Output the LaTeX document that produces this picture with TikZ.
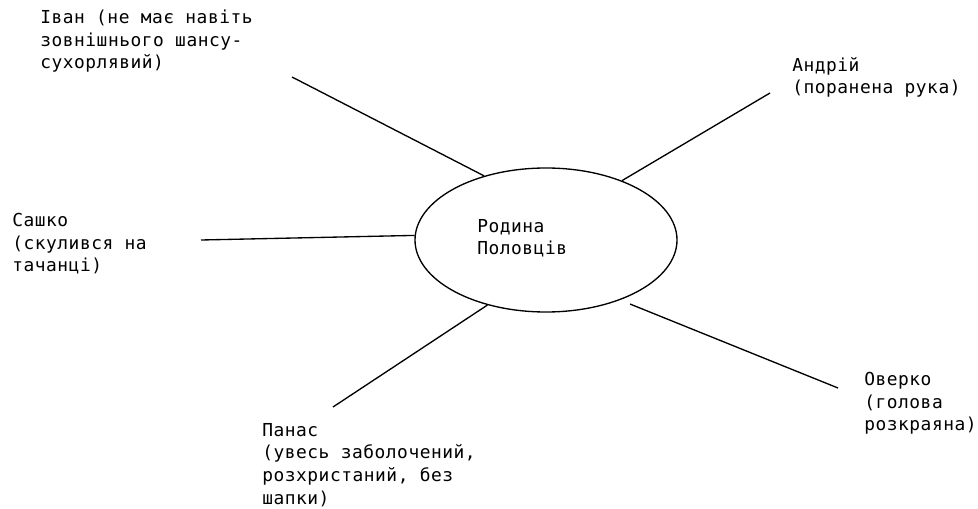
\documentclass[tikz,border=0pt]{standalone}
\usepackage{fontspec}
\newfontfamily\monofont{DejaVu Sans Mono}[LetterSpace=3]
\usetikzlibrary{shapes.geometric}

\begin{document}
\begin{tikzpicture}[x=0.75pt,y=0.75pt,yscale=-1,xscale=1,
  lbl/.style={anchor=base west,inner sep=0pt,align=left,
    font=\monofont\fontsize{13.4pt}{16.9pt}\selectfont},
  spoke/.style={draw=black,line width=1pt}]
\useasboundingbox (0,0) rectangle (978,509);

%Ellipse in the middle
\node [draw=black,line width=1pt,ellipse,minimum width=196.5pt,minimum height=108pt,inner sep=0pt] (family) at (546,240) {};
\node [lbl] (familyText) at (477,255) {Родина\\Половців};

% Text Nodes (placed at the baseline of the last line)
\node [lbl] (ivan) at (40,69) {Іван (не має навіть\\зовнішнього шансу-\\сухорлявий)};
\node [lbl] (andrii) at (792,94) {Андрій\\(поранена рука)};
\node [lbl] (sashko) at (12,272) {Сашко\\(скулився на\\тачанці)};
\node [lbl] (panas) at (262,504) {Панас\\(увесь заболочений,\\розхристаний, без\\шапки)};
\node [lbl] (overko) at (864,431) {Оверко\\(голова\\розкраяна)};

%Free ends of the lines
\coordinate (ivanEnd) at (292,77);
\coordinate (andriiEnd) at (770,93);
\coordinate (sashkoEnd) at (201,240);
\coordinate (panasEnd) at (333,407);
\coordinate (overkoEnd) at (838,388);

%Straight Lines
\draw [spoke] (ivanEnd) -- (family.134.6);
\draw [spoke] (andriiEnd) -- (family.38.7);
\draw [spoke] (sashkoEnd) -- (family.178.7);
\draw [spoke] (panasEnd) -- (family.228.4);
\draw [spoke,shorten <=8pt] (family.-39.6) -- (overkoEnd);

\end{tikzpicture}
\end{document}
